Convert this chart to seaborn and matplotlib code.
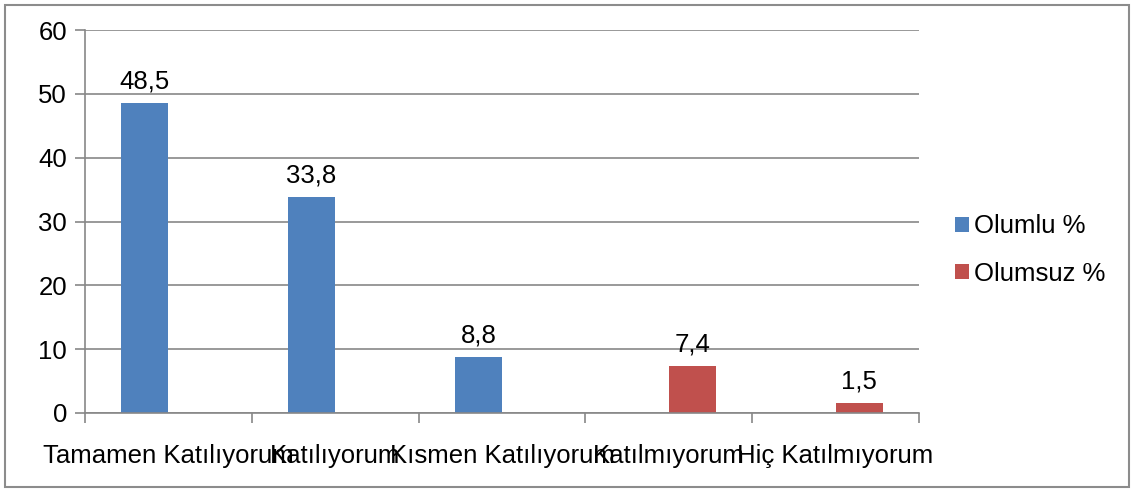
import pandas as pd
import matplotlib.pyplot as plt
import seaborn as sns
from matplotlib.patches import Rectangle

# data
categories = ["Tamamen Katılıyorum", "Katılıyorum", "Kısmen Katılıyorum", "Katılmıyorum", "Hiç Katılmıyorum"]
olumlu = [48.5, 33.8, 8.8, 0, 0]
olumsuz = [0, 0, 0, 7.4, 1.5]
series = ["Olumlu %", "Olumsuz %"]
colors = ["#4F81BD", "#C0504D"]

df = pd.DataFrame({
    "Kategori": categories * 2,
    "Deger": olumlu + olumsuz,
    "Seri": [series[0]] * len(categories) + [series[1]] * len(categories),
})

sns.set_style("white")
plt.rcParams["font.family"] = ["Liberation Sans", "DejaVu Sans"]
plt.rcParams["text.color"] = "black"
plt.rcParams["xtick.color"] = "black"
plt.rcParams["ytick.color"] = "black"

fs = 18.5

fig = plt.figure(figsize=(11.34, 4.92), dpi=100)
ax = fig.add_axes([85 / 1134, 1 - 413 / 492, (919 - 85) / 1134, (413 - 30) / 492])

sns.barplot(data=df, x="Kategori", y="Deger", hue="Seri", palette=colors,
            saturation=1, width=0.566, dodge=True, ax=ax, edgecolor="none",
            linewidth=0, order=categories, hue_order=series)

# value labels (only for non-zero bars)
for cont in ax.containers:
    labels = [f"{b.get_height():.1f}".replace(".", ",") if b.get_height() > 0 else ""
              for b in cont]
    ax.bar_label(cont, labels=labels, padding=7, fontsize=fs, color="black")

grid_c = "#878787"
ax.set_ylim(0, 60)
ax.set_xlim(-0.5, len(categories) - 0.5)
ax.set_yticks(range(0, 61, 10))
ax.yaxis.grid(True, color=grid_c, linewidth=1.2)
ax.set_axisbelow(True)
ax.set_xlabel("")
ax.set_ylabel("")

for s in ["top", "right"]:
    ax.spines[s].set_visible(False)
for s in ["left", "bottom"]:
    ax.spines[s].set_color(grid_c)
    ax.spines[s].set_linewidth(1.2)

ax.tick_params(axis="y", direction="out", length=7, color=grid_c, width=1.2,
               labelsize=fs, labelcolor="black", pad=6, left=True)
ax.set_xticks(range(len(categories)))
ax.set_xticklabels(categories)
ax.set_xticks([i - 0.5 for i in range(len(categories) + 1)], minor=True)
ax.tick_params(axis="x", which="major", length=0, labelsize=fs, labelcolor="black", pad=22)
ax.tick_params(axis="x", which="minor", direction="out", length=7, color=grid_c,
               width=1.2, bottom=True)

ax.legend(loc="center left", bbox_to_anchor=(932 / 1134, 1 - 250 / 492),
          bbox_transform=fig.transFigure, frameon=False, fontsize=fs,
          handlelength=0.55, handleheight=0.55, handletextpad=0.2, labelspacing=0.9)

# outer chart border
fig.patches.append(Rectangle((5 / 1134, 5 / 492), 1 - 10 / 1134, 1 - 10 / 492,
                             transform=fig.transFigure, fill=False,
                             edgecolor="#8C8C8C", linewidth=1.5))

fig.savefig("out.png", dpi=100)
